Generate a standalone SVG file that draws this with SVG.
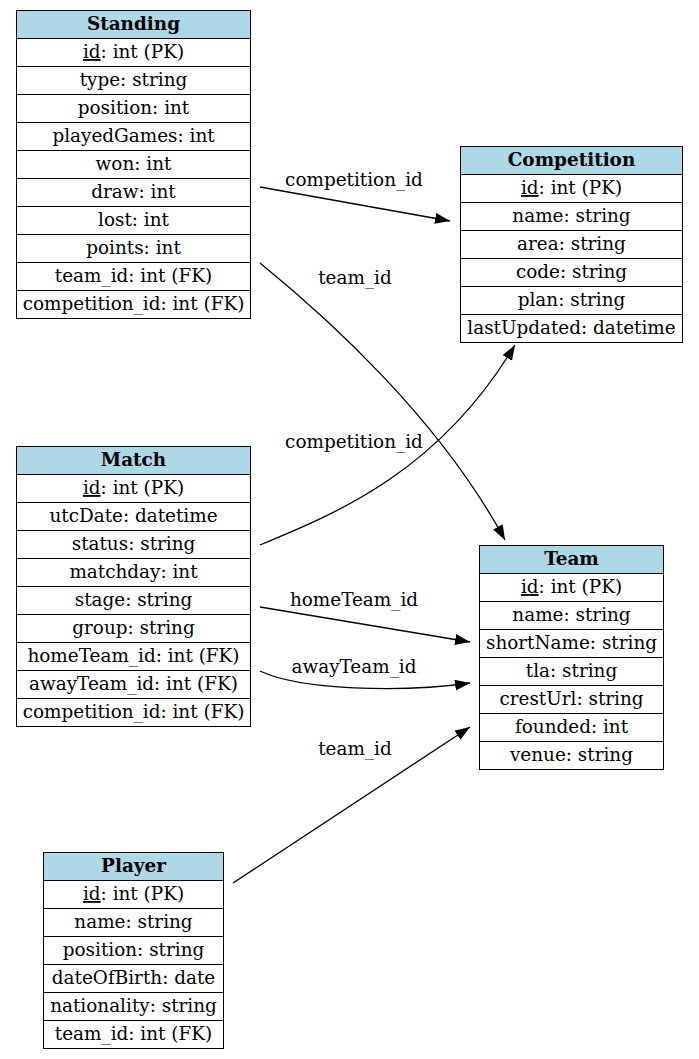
<svg xmlns="http://www.w3.org/2000/svg" width="699" height="1059" viewBox="0 0 699 1059">
<style>
text{font-family:"DejaVu Serif","Liberation Serif",serif;font-size:18.4px;fill:#000;text-anchor:middle}
.h{font-weight:bold}
.hd{fill:#add8e6;stroke:#000;stroke-width:1}
.c{fill:#fff;stroke:#000;stroke-width:1}
.e{fill:none;stroke:#000;stroke-width:1.3}
.u{text-decoration:underline}
</style>
<defs>
<marker id="ah" markerUnits="userSpaceOnUse" markerWidth="16" markerHeight="12" refX="15" refY="5.5" orient="auto">
<path d="M0,0 L15,5.5 L0,11 z" fill="#000"/>
</marker>
</defs>
<rect width="699" height="1059" fill="#fff"/>

<g id="edges">
<path class="e" d="M260,187 L450,221" marker-end="url(#ah)"/>
<text x="354" y="186">competition_id</text>
<path class="e" d="M260,263 C330,320 440,420 505,540" marker-end="url(#ah)"/>
<text x="355" y="284">team_id</text>
<path class="e" d="M260,545 C340,512 440,470 515,345" marker-end="url(#ah)"/>
<text x="354" y="448">competition_id</text>
<path class="e" d="M260,607 L470,642" marker-end="url(#ah)"/>
<text x="354" y="606">homeTeam_id</text>
<path class="e" d="M260,671 C300,690 400,693 470,683" marker-end="url(#ah)"/>
<text x="354" y="673">awayTeam_id</text>
<path class="e" d="M233,883 L470,727" marker-end="url(#ah)"/>
<text x="355" y="755">team_id</text>
</g>

<g id="Standing">
<rect class="hd" x="16.5" y="10.5" width="234" height="28"/>
<rect class="c" x="16.5" y="38.5" width="234" height="28"/>
<rect class="c" x="16.5" y="66.5" width="234" height="28"/>
<rect class="c" x="16.5" y="94.5" width="234" height="28"/>
<rect class="c" x="16.5" y="122.5" width="234" height="28"/>
<rect class="c" x="16.5" y="150.5" width="234" height="28"/>
<rect class="c" x="16.5" y="178.5" width="234" height="28"/>
<rect class="c" x="16.5" y="206.5" width="234" height="28"/>
<rect class="c" x="16.5" y="234.5" width="234" height="28"/>
<rect class="c" x="16.5" y="262.5" width="234" height="28"/>
<rect class="c" x="16.5" y="290.5" width="234" height="28"/>
<text class="h" x="133.5" y="30">Standing</text>
<text x="133.5" y="58"><tspan class="u">id</tspan>: int (PK)</text>
<text x="133.5" y="86">type: string</text>
<text x="133.5" y="114">position: int</text>
<text x="133.5" y="142">playedGames: int</text>
<text x="133.5" y="170">won: int</text>
<text x="133.5" y="198">draw: int</text>
<text x="133.5" y="226">lost: int</text>
<text x="133.5" y="254">points: int</text>
<text x="133.5" y="282">team_id: int (FK)</text>
<text x="133.5" y="310">competition_id: int (FK)</text>
</g>

<g id="Competition">
<rect class="hd" x="460.5" y="146.5" width="222" height="28"/>
<rect class="c" x="460.5" y="174.5" width="222" height="28"/>
<rect class="c" x="460.5" y="202.5" width="222" height="28"/>
<rect class="c" x="460.5" y="230.5" width="222" height="28"/>
<rect class="c" x="460.5" y="258.5" width="222" height="28"/>
<rect class="c" x="460.5" y="286.5" width="222" height="28"/>
<rect class="c" x="460.5" y="314.5" width="222" height="28"/>
<text class="h" x="571.5" y="166">Competition</text>
<text x="571.5" y="194"><tspan class="u">id</tspan>: int (PK)</text>
<text x="571.5" y="222">name: string</text>
<text x="571.5" y="250">area: string</text>
<text x="571.5" y="278">code: string</text>
<text x="571.5" y="306">plan: string</text>
<text x="571.5" y="334">lastUpdated: datetime</text>
</g>

<g id="Match">
<rect class="hd" x="16.5" y="446.5" width="234" height="28"/>
<rect class="c" x="16.5" y="474.5" width="234" height="28"/>
<rect class="c" x="16.5" y="502.5" width="234" height="28"/>
<rect class="c" x="16.5" y="530.5" width="234" height="28"/>
<rect class="c" x="16.5" y="558.5" width="234" height="28"/>
<rect class="c" x="16.5" y="586.5" width="234" height="28"/>
<rect class="c" x="16.5" y="614.5" width="234" height="28"/>
<rect class="c" x="16.5" y="642.5" width="234" height="28"/>
<rect class="c" x="16.5" y="670.5" width="234" height="28"/>
<rect class="c" x="16.5" y="698.5" width="234" height="28"/>
<text class="h" x="133.5" y="466">Match</text>
<text x="133.5" y="494"><tspan class="u">id</tspan>: int (PK)</text>
<text x="133.5" y="522">utcDate: datetime</text>
<text x="133.5" y="550">status: string</text>
<text x="133.5" y="578">matchday: int</text>
<text x="133.5" y="606">stage: string</text>
<text x="133.5" y="634">group: string</text>
<text x="133.5" y="662">homeTeam_id: int (FK)</text>
<text x="133.5" y="690">awayTeam_id: int (FK)</text>
<text x="133.5" y="718">competition_id: int (FK)</text>
</g>

<g id="Team">
<rect class="hd" x="479.5" y="545.5" width="184" height="28"/>
<rect class="c" x="479.5" y="573.5" width="184" height="28"/>
<rect class="c" x="479.5" y="601.5" width="184" height="28"/>
<rect class="c" x="479.5" y="629.5" width="184" height="28"/>
<rect class="c" x="479.5" y="657.5" width="184" height="28"/>
<rect class="c" x="479.5" y="685.5" width="184" height="28"/>
<rect class="c" x="479.5" y="713.5" width="184" height="28"/>
<rect class="c" x="479.5" y="741.5" width="184" height="28"/>
<text class="h" x="571.5" y="565">Team</text>
<text x="571.5" y="593"><tspan class="u">id</tspan>: int (PK)</text>
<text x="571.5" y="621">name: string</text>
<text x="571.5" y="649">shortName: string</text>
<text x="571.5" y="677">tla: string</text>
<text x="571.5" y="705">crestUrl: string</text>
<text x="571.5" y="733">founded: int</text>
<text x="571.5" y="761">venue: string</text>
</g>

<g id="Player">
<rect class="hd" x="43.5" y="852.5" width="180" height="28"/>
<rect class="c" x="43.5" y="880.5" width="180" height="28"/>
<rect class="c" x="43.5" y="908.5" width="180" height="28"/>
<rect class="c" x="43.5" y="936.5" width="180" height="28"/>
<rect class="c" x="43.5" y="964.5" width="180" height="28"/>
<rect class="c" x="43.5" y="992.5" width="180" height="28"/>
<rect class="c" x="43.5" y="1020.5" width="180" height="28"/>
<text class="h" x="133.5" y="872">Player</text>
<text x="133.5" y="900"><tspan class="u">id</tspan>: int (PK)</text>
<text x="133.5" y="928">name: string</text>
<text x="133.5" y="956">position: string</text>
<text x="133.5" y="984">dateOfBirth: date</text>
<text x="133.5" y="1012">nationality: string</text>
<text x="133.5" y="1040">team_id: int (FK)</text>
</g>
</svg>
